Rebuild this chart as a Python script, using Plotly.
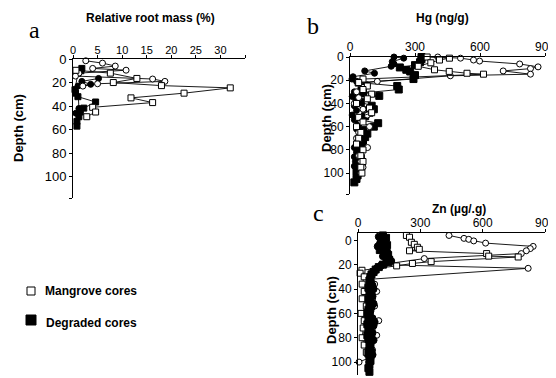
import plotly.graph_objects as go

# ---------------- data ----------------
# Panel a: Relative root mass (%)
a_mang_circ_depth = [1.5, 3.5, 6, 8, 9.5, 12, 14.5, 17, 19, 21, 23]
a_mang_circ_val = [2.6, 6, 8.6, 4, 10.8, 1.2, 0.5, 16.2, 18.7, 5, 2]
a_mang_sq_depth = [9.6, 12, 16.5, 20, 22.6, 24.5, 29, 33, 37, 41, 45, 49]
a_mang_sq_val = [0.6, 7.6, 13, 8.2, 18, 32, 22.6, 11.8, 16.2, 4, 4.6, 2.8]
a_degr_sq_depth = [8, 10, 12, 26, 29, 32, 36.5, 41.7, 45, 49, 53, 57]
a_degr_sq_val = [1.8, 1.6, 1.0, 0.4, 0.5, 1.0, 4.6, 2.2, 1.5, 1.2, 0.8, 0.8]
a_degr_circ_depth = [16.5, 19, 21.5, 23, 42, 46]
a_degr_circ_val = [5.2, 1.8, 3.6, 1.0, 1.2, 0.6]

# Panel b: Hg (ng/g)
b_mang_circ_depth = [0, 1, 2.6, 3.5, 6, 8.5, 10, 12, 14.8, 16.2, 21, 23, 26, 30, 35, 40, 45, 50, 55, 60, 65, 70, 78, 85, 90, 95, 100]
b_mang_circ_val = [405, 510, 570, 598, 783, 868, 833, 707, 833, 463, 126, 45, 60, 30, 40, 20, 60, 80, 50, 90, 40, 30, 81, 40, 50, 60, 50]
b_mang_sq_depth = [0, 1, 2.6, 5, 8, 11, 12.4, 14, 14.8, 19, 22, 25, 28, 32, 36, 40, 44, 48, 52, 56, 60, 65, 70, 75, 80, 85, 90, 95, 100]
b_mang_sq_val = [356, 459, 413, 373, 315, 390, 458, 540, 616, 60, 40, 80, 60, 100, 80, 30, 90, 100, 40, 60, 30, 50, 40, 30, 60, 50, 60, 50, 55]
b_degr_sq_depth = [0, 2, 4.5, 7, 9, 11, 12.5, 15.6, 19, 22, 25, 28, 31, 33.5, 36, 39, 42, 45, 48, 51, 54, 57, 60, 63, 66, 69, 72, 75, 78, 81, 84, 87, 90, 93, 96, 99, 102, 105, 108]
b_degr_sq_val = [330, 330, 323, 300, 230, 260, 278, 300, 293, 40, 218, 225, 60, 135, 30, 50, 100, 110, 90, 70, 40, 130, 110, 60, 80, 70, 60, 55, 50, 45, 40, 50, 35, 40, 45, 30, 35, 30, 20]
b_degr_circ_depth = [0, 1, 4, 6, 8, 12, 14, 17, 19, 21, 24, 27, 30, 34, 38, 42, 46, 50, 54, 58, 62, 66, 70, 74, 78, 82, 86, 90, 94]
b_degr_circ_val = [203, 248, 195, 203, 190, 68, 113, 14, 9, 30, 80, 50, 20, 10, 40, 20, 30, 10, 20, 40, 30, 50, 40, 30, 20, 30, 20, 25, 20]

# Panel c: Zn (ug/g)
c_mang_circ_depth = [-4, -1.6, -0.8, 0.5, 2.3, 5, 6.8, 8.6, 10.9, 15, 20, 23, 32, 36, 42, 48, 54, 60, 66, 72, 78, 84, 90, 96, 100]
c_mang_circ_val = [438, 510, 533, 557, 614, 843, 829, 810, 786, 319, 110, 819, 57, 80, 90, 70, 80, 60, 100, 70, 90, 60, 70, 60, 5]
c_mang_sq_depth = [-4, -2.5, 1.6, 3.3, 5.7, 7.4, 8.6, 10.9, 13, 13.7, 17.5, 19, 21, 24.6, 27, 30, 36, 42, 48, 54, 60, 66, 72, 80, 86, 92]
c_mang_sq_val = [233, 248, 257, 271, 286, 295, 248, 619, 629, 771, 352, 262, 186, 19, 10, 30, 20, 30, 20, 40, 15, 30, 25, 20, 30, 40]
c_degr_sq_depth = [-4, -2, 0, 2, 4, 6, 8, 10, 12, 14, 16, 18, 20, 22, 24, 26, 28, 30, 33, 36, 39, 42, 45, 48, 51, 54, 57, 60, 63, 66, 69, 72, 75, 78, 81, 84, 87, 90, 93, 96, 99, 102, 105, 108]
c_degr_sq_val = [120, 135, 110, 125, 140, 115, 105, 130, 145, 140, 150, 145, 120, 100, 85, 75, 65, 60, 55, 60, 50, 55, 60, 50, 55, 60, 50, 45, 55, 50, 45, 50, 55, 45, 50, 55, 60, 55, 50, 55, 60, 55, 50, 55]
c_degr_circ_depth = [-3, -1, 1, 3, 5, 7, 9, 11, 13, 15, 17, 19, 21, 23, 25, 27, 29, 31, 34, 37, 40, 43, 46, 49, 52, 55, 58, 61, 64, 67, 70, 73, 76, 79, 82, 85, 88, 91, 94, 97, 100]
c_degr_circ_val = [100, 120, 130, 105, 95, 125, 140, 135, 120, 150, 160, 130, 110, 90, 80, 70, 62, 58, 62, 70, 75, 65, 70, 60, 75, 65, 60, 55, 70, 80, 75, 60, 70, 65, 75, 60, 55, 65, 70, 60, 55]

a_xticks = [0, 5, 10, 15, 20, 25, 30, 35]
a_xticktext = ["0", "5", "10", "15", "20", "25", "30", ""]
metal_xticks = [0, 300, 600, 900]
depth_ticks = [0, 20, 40, 60, 80, 100]

legend_labels = ["Mangrove cores", "Degraded cores"]
titles = ["Relative root mass (%)", "Hg (ng/g)", "Zn (µg/.g)"]

# ---------------- figure ----------------
fig = go.Figure()

def add(vals, depth, filled, symbol, xa, ya, size=6):
    fig.add_trace(go.Scatter(
        x=vals, y=depth, mode="lines+markers", xaxis=xa, yaxis=ya,
        showlegend=False, cliponaxis=False,
        line=dict(color="black", width=0.9),
        marker=dict(symbol=symbol, size=size,
                    color="black" if filled else "white",
                    line=dict(color="black", width=1)),
    ))

# panel a
add(a_degr_sq_val, a_degr_sq_depth, True, "square", "x", "y")
add(a_degr_circ_val, a_degr_circ_depth, True, "circle", "x", "y")
add(a_mang_circ_val, a_mang_circ_depth, False, "circle", "x", "y")
add(a_mang_sq_val, a_mang_sq_depth, False, "square", "x", "y")
# panel b
add(b_degr_sq_val, b_degr_sq_depth, True, "square", "x2", "y2", 7)
add(b_degr_circ_val, b_degr_circ_depth, True, "circle", "x2", "y2")
add(b_mang_circ_val, b_mang_circ_depth, False, "circle", "x2", "y2")
add(b_mang_sq_val, b_mang_sq_depth, False, "square", "x2", "y2")
# panel c
add(c_mang_circ_val, c_mang_circ_depth, False, "circle", "x3", "y3")
add(c_mang_sq_val, c_mang_sq_depth, False, "square", "x3", "y3")
add(c_degr_sq_val, c_degr_sq_depth, True, "square", "x3", "y3", 7)
add(c_degr_circ_val, c_degr_circ_depth, True, "circle", "x3", "y3", 7)

# the page body has an 8 px margin, so the figure is offset by 8 px
OFF = 8
W, H = 556 - OFF, 378 - OFF
def px(x):
    return (x - OFF) / W
def py(y):
    return 1 - (y - OFF) / H

font = "Arial, Liberation Sans, sans-serif"
axis_common = dict(showline=True, linecolor="black", linewidth=1, showgrid=False,
                   zeroline=False, ticks="outside", ticklen=3, tickcolor="black",
                   automargin=False, ticklabeloverflow="allow",
                   tickfont=dict(family=font, size=12, color="black"))
xaxis_extra = dict(ticklabelstandoff=-3)

fig.update_layout(
    template="none",
    width=W, height=H, margin=dict(l=0, r=0, t=0, b=0, autoexpand=False),
    paper_bgcolor="white", plot_bgcolor="white", showlegend=False,
    xaxis=dict(axis_common, **xaxis_extra, domain=[px(73), px(245)], range=[0, 35], side="top", anchor="y",
               tickvals=a_xticks, ticktext=a_xticktext, tickfont=dict(family=font, size=11, color="black")),
    yaxis=dict(axis_common, domain=[py(198), py(59)], range=[118, 0], anchor="x",
               tickvals=depth_ticks + [118], ticktext=[str(t) for t in depth_ticks] + [""],
               tickfont=dict(family=font, size=13, color="black")),
    xaxis2=dict(axis_common, **xaxis_extra, domain=[px(350), px(545)], range=[0, 900], side="top", anchor="y2",
                tickvals=metal_xticks),
    yaxis2=dict(axis_common, domain=[py(194), py(57)], range=[118, 0], anchor="x2",
                tickvals=depth_ticks + [118], ticktext=[str(t) for t in depth_ticks] + [""]),
    xaxis3=dict(axis_common, **xaxis_extra, domain=[px(358), px(545)], range=[0, 900], side="top", anchor="y3",
                tickvals=metal_xticks),
    yaxis3=dict(axis_common, domain=[py(375), py(233)], range=[110.6, -6], anchor="x3",
                tickvals=depth_ticks),
)

ann = []
def text(x, y, s, size, bold=True, fam=font, angle=0, xanchor="center"):
    ann.append(dict(x=px(x), y=py(y), xref="paper", yref="paper", text=("<b>%s</b>" % s) if bold else s,
                    showarrow=False, textangle=angle, xanchor=xanchor, yanchor="middle",
                    font=dict(family=fam, size=size, color="black")))

text(150, 18, titles[0], 12)
text(442, 18, titles[1], 12)
text(459, 209, titles[2], 12)
serif = "Liberation Serif, Times New Roman, serif"
text(34, 30, "a", 24, bold=False, fam=serif)
text(313, 26, "b", 24, bold=False, fam=serif)
text(318, 213, "c", 24, bold=False, fam=serif)
text(18, 128, "Depth (cm)", 13, angle=-90)
text(326, 118, "Depth (cm)", 13, angle=-90)
text(331, 310, "Depth (cm)", 13, angle=-90)
text(43, 291, legend_labels[0], 12, xanchor="left")
text(44, 323, legend_labels[1], 12, xanchor="left")
fig.update_layout(annotations=ann)

fig.add_shape(type="rect", xref="paper", yref="paper", x0=px(27), x1=px(35), y0=py(295), y1=py(287),
              line=dict(color="black", width=1), fillcolor="white")
fig.add_shape(type="rect", xref="paper", yref="paper", x0=px(26), x1=px(36), y0=py(325), y1=py(315),
              line=dict(color="black", width=1), fillcolor="black")

fig.write_html("out.html")
